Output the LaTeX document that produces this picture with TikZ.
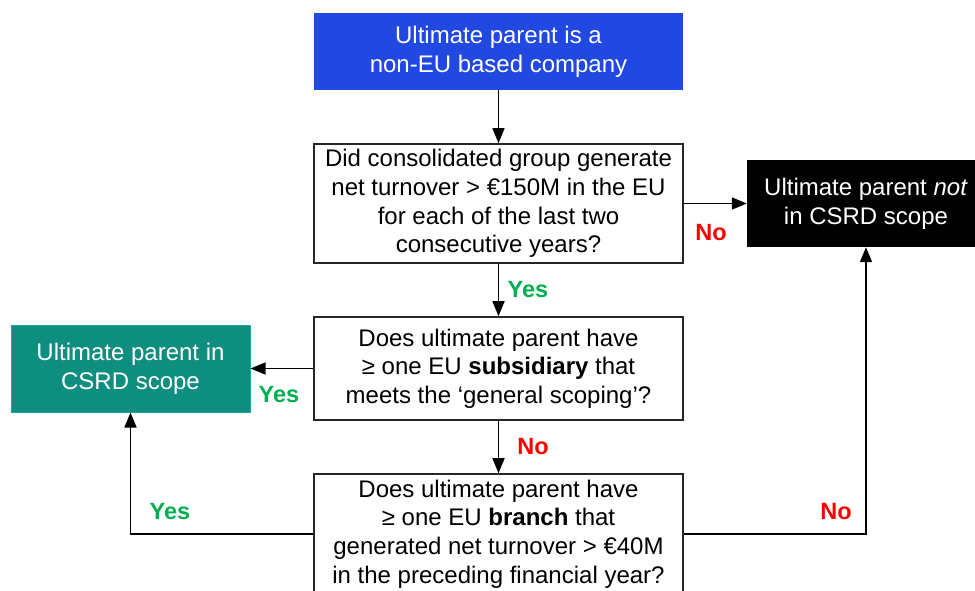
\documentclass[tikz,border=0pt]{standalone}
\usepackage{fontspec}
\setmainfont{Liberation Sans}
\usetikzlibrary{arrows.meta}
\definecolor{startblue}{RGB}{33,73,225}
\definecolor{inteal}{RGB}{14,142,126}
\definecolor{intealedge}{RGB}{30,170,155}
\definecolor{yesgreen}{RGB}{0,176,80}
\definecolor{nored}{RGB}{255,0,0}
\tikzset{
  x=1pt, y=-1pt,
  base/.style={rectangle, align=center, inner sep=0pt,
    font=\fontsize{24}{28.7}\selectfont},
  question/.style={base, draw=black!85, line width=1.6pt, fill=white,
    minimum width=369pt, minimum height=119pt},
  startbox/.style={base, fill=startblue, text=white,
    minimum width=369pt, minimum height=77pt},
  inbox/.style={base, fill=inteal, draw=intealedge, line width=1pt, text=white,
    minimum width=239pt, minimum height=87pt},
  outbox/.style={base, fill=black, text=white,
    minimum width=238pt, minimum height=87pt},
  flow/.style={line width=1.6pt, -{Triangle[length=15pt,width=12pt]}},
  yeslab/.style={font=\fontsize{23.5}{27}\selectfont\bfseries, text=yesgreen},
  nolab/.style={font=\fontsize{23.5}{27}\selectfont\bfseries, text=nored},
}
\begin{document}
\begin{tikzpicture}
\useasboundingbox (0,0) rectangle (975,590);
\clip (0,0) rectangle (975,590);

\node[startbox] (start) at (498.5,51.5) {Ultimate parent is a\\non-EU based company};
\node[question, minimum height=119pt] (turnover) at (498.5,203.5)
  {Did consolidated group generate\\net turnover > €150M in the EU\\for each of the last two\\consecutive years?};
\node[question, minimum height=103pt] (subsid) at (498.5,368.5)
  {Does ultimate parent have\\≥ one EU \textbf{subsidiary} that\\meets the ‘general scoping’?};
\node[question, minimum height=120pt] (branch) at (498.5,534)
  {Does ultimate parent have\\≥ one EU \textbf{branch} that\\generated net turnover > €40M\\in the preceding financial year?};
\node[outbox] (out) at (866,203.5) {Ultimate parent \textit{not}\\in CSRD scope};
\node[inbox] (in) at (130.5,368.5) {Ultimate parent in\\CSRD scope};

\draw[flow] (start.south) -- (turnover.north);
\draw[flow] (turnover.south) -- (subsid.north);
\draw[flow] (subsid.south) -- (branch.north);
\draw[flow] (turnover.east) -- (out.west);
\draw[flow] (subsid.west) -- (in.east);
\draw[flow] (branch.west) -| (in.south);
\draw[flow] (branch.east) -| (out.south);

\node[yeslab] (y1) at (528,290) {Yes};
\node[nolab] (n1) at (533,447) {No};
\node[nolab] (n2) at (711,233) {No};
\node[yeslab] (y2) at (279,395) {Yes};
\node[yeslab] (y3) at (170,512) {Yes};
\node[nolab] (n3) at (836,512) {No};
\end{tikzpicture}
\end{document}
